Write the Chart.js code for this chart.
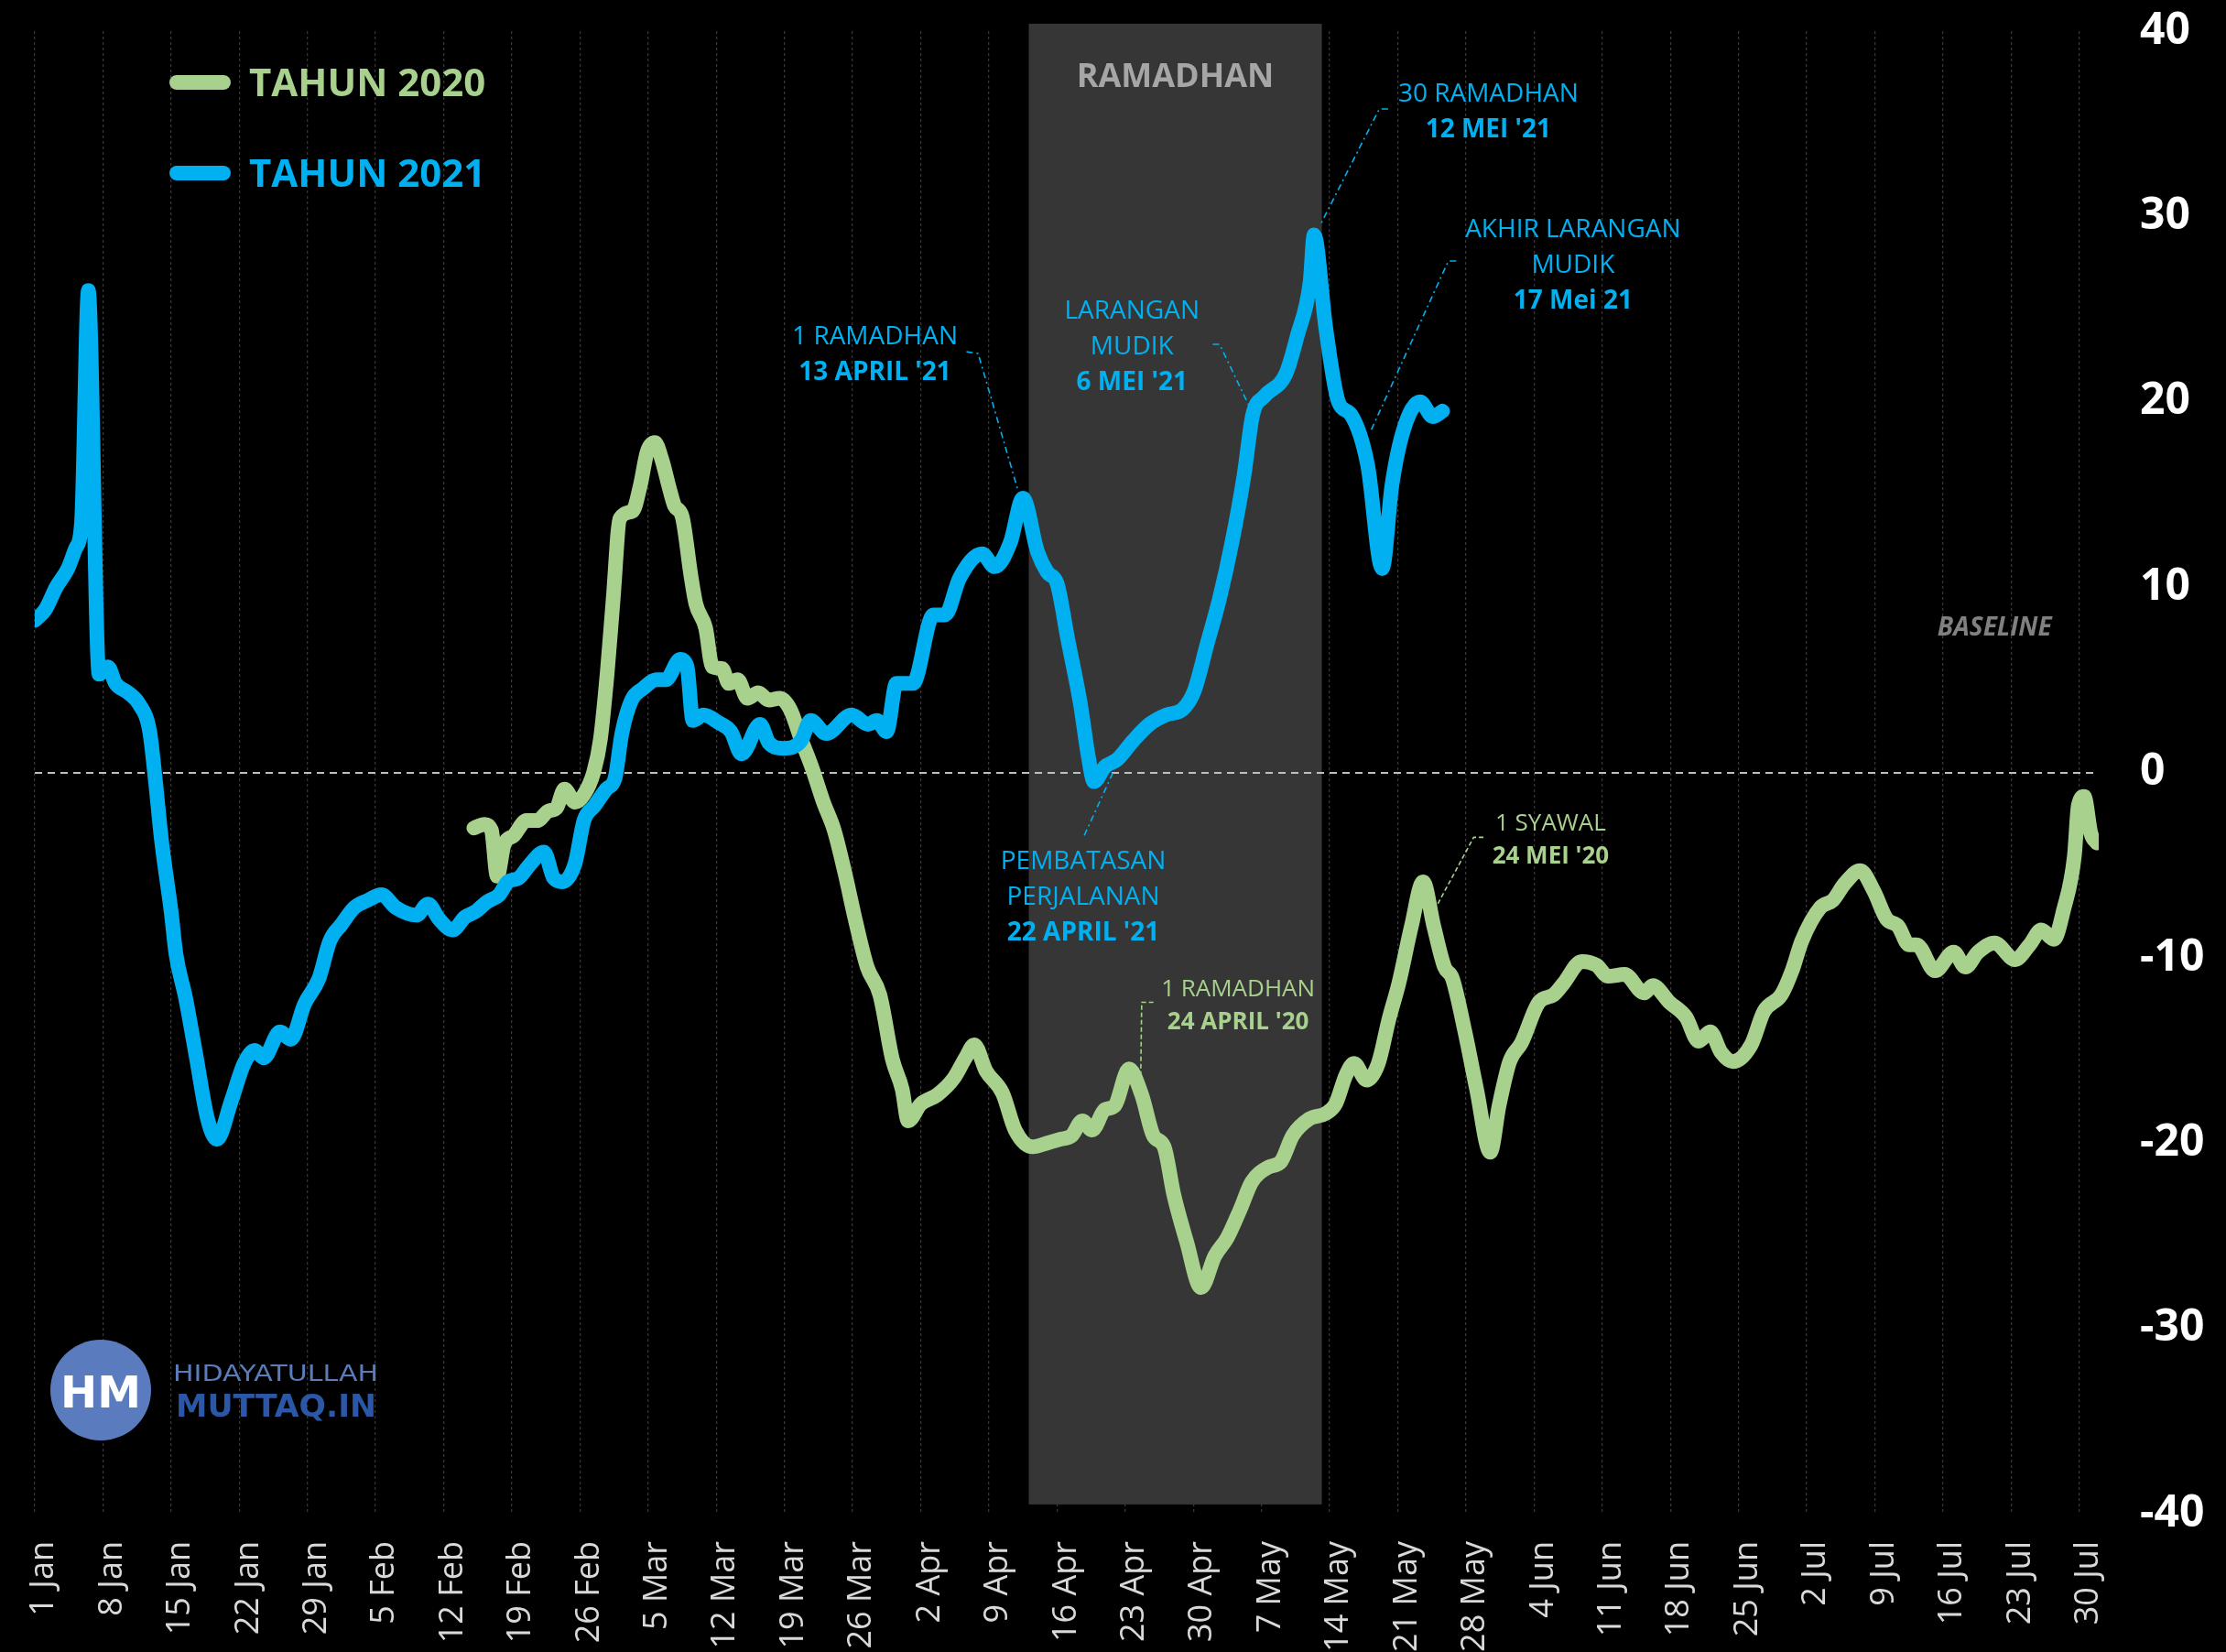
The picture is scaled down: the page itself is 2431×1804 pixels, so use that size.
<!DOCTYPE html>
<html>
<head>
<meta charset="utf-8">
<script src="https://cdn.jsdelivr.net/npm/chart.js@4/dist/chart.umd.min.js"></script>
<style>
  html, body { margin: 0; padding: 0; background: #000; }
  canvas { display: block; }
</style>
</head>
<body>
<canvas id="mobilityChart" width="2431" height="1804"></canvas>
<script>
// x = days since 1 Jan (weekly ticks follow the 2021 calendar)
var tickLabels = ['1 Jan', '8 Jan', '15 Jan', '22 Jan', '29 Jan', '5 Feb', '12 Feb', '19 Feb', '26 Feb',
    '5 Mar', '12 Mar', '19 Mar', '26 Mar', '2 Apr', '9 Apr', '16 Apr', '23 Apr', '30 Apr',
    '7 May', '14 May', '21 May', '28 May', '4 Jun', '11 Jun', '18 Jun', '25 Jun',
    '2 Jul', '9 Jul', '16 Jul', '23 Jul', '30 Jul'];

// TAHUN 2021 (blue)
var days2021 = [0, 1.1, 2.2, 3.4, 4.2, 4.8, 5.5, 6.6, 7.5, 8.3, 9.6, 10.7, 11.8, 12.4, 13.0, 14.0, 14.5,
    15.5, 16.6, 17.7, 18.7, 20.2, 21.5, 22.6, 23.5, 25.2, 26.3, 27.7, 29.2, 30.3, 31.5, 32.8, 34.2,
    35.6, 37.1, 39.2, 40.4, 41.5, 42.9, 44.2, 45.3, 46.4, 47.7, 48.6, 49.7, 50.8, 52.3, 53.3, 54.2,
    55.5, 56.4, 57.5, 58.7, 59.6, 60.3, 61.3, 62.4, 63.9, 64.8, 66.3, 67.0, 67.6, 68.7, 70.2, 71.5,
    72.6, 74.5, 75.4, 76.9, 78.7, 79.7, 81.3, 83.9, 85.6, 86.5, 87.5, 88.5, 90.2, 92.3, 93.5, 95.0,
    97.3, 98.6, 100.2, 101.5, 103.0, 104.0, 105.0, 106.1, 107.4, 108.2, 108.8, 109.9, 111.2, 112.8,
    114.5, 116.2, 117.9, 119.1, 120.4, 121.7, 123.0, 124.2, 125.1, 126.3, 128.5, 129.7, 131.0, 131.4,
    132.6, 133.9, 135.2, 136.9, 138.4, 139.4, 140.6, 142.3, 143.6, 144.6];
var values2021 = [8.2, 8.8, 10.0, 11.0, 12.1, 13.5, 26.0, 5.3, 5.7, 4.8, 4.3, 3.7, 2.2, -0.5, -3.6, -7.5, -9.8,
    -12.2, -15.4, -18.6, -19.8, -17.7, -15.7, -15.0, -15.4, -14.0, -14.4, -12.5, -11.1, -9.1, -8.2, -7.3, -6.9,
    -6.6, -7.3, -7.7, -7.1, -7.9, -8.5, -7.8, -7.5, -7.0, -6.6, -5.9, -5.7, -5.0, -4.3, -5.7, -5.9,
    -4.9, -2.6, -1.8, -0.9, -0.3, 2.1, 3.9, 4.5, 5.0, 5.0, 6.1, 5.7, 2.8, 3.1, 2.7, 2.2,
    1.0, 2.6, 1.6, 1.3, 1.7, 2.8, 2.1, 3.1, 2.6, 2.8, 2.2, 4.8, 4.8, 8.5, 8.5, 10.5,
    11.8, 11.1, 12.4, 14.8, 11.9, 10.8, 10.2, 7.2, 3.7, 0.9, -0.5, 0.3, 0.7, 1.7,
    2.6, 3.1, 3.4, 4.4, 6.9, 9.4, 12.5, 16.0, 19.3, 20.3, 21.5, 23.6, 26.5, 29.0,
    24.0, 20.0, 19.3, 16.6, 11.0, 15.5, 18.5, 20.0, 19.2, 19.5];

// TAHUN 2020 (green)
var days2020 = [45.1, 46.2, 46.9, 47.5, 48.2, 49.2, 50.5, 51.6, 52.7, 53.6, 54.4, 55.5, 56.4, 57.4, 58.1,
    58.8, 59.4, 60.1, 61.4, 62.2, 62.9, 63.7, 64.4, 65.2, 65.7, 66.5, 67.4, 67.9, 68.9, 69.6, 70.6,
    71.3, 72.2, 73.2, 74.3, 75.4, 76.5, 77.6, 78.7, 79.8, 81.0, 82.1, 83.2, 84.3, 85.5, 86.8, 88.1,
    89.1, 89.7, 91.0, 92.7, 94.4, 95.6, 96.5, 97.7, 99.4, 100.7, 102.5, 104.0, 105.3, 106.5, 107.6,
    108.6, 109.9, 110.9, 112.4, 113.7, 114.9, 116.0, 117.0, 118.3, 119.8, 121.2, 122.5, 123.8, 125.0,
    126.7, 128.0, 129.2, 130.9, 132.6, 133.6, 134.7, 135.5, 136.8, 138.0, 139.1, 140.1, 141.4, 142.6,
    143.7, 144.8, 145.6, 146.9, 148.1, 149.5, 150.4, 151.5, 152.7, 154.5, 156.0, 157.0, 158.9, 160.4,
    161.6, 163.3, 165.3, 166.2, 167.9, 169.6, 170.9, 172.1, 173.2, 174.4, 176.3, 177.6, 179.4, 180.5,
    181.5, 183.4, 184.7, 185.9, 187.5, 188.9, 190.2, 191.4, 192.5, 193.3, 195.2, 197.1, 198.3, 199.6,
    201.3, 203.4, 204.9, 206.1, 207.4, 208.4, 209.5, 209.9, 210.5, 211.2, 211.8];
var values2020 = [-3.0, -2.8, -3.1, -5.6, -3.9, -3.4, -2.6, -2.6, -2.1, -1.9, -0.9, -1.6, -1.2, 0.0, 1.8,
    5.4, 9.3, 13.7, 14.1, 15.5, 17.3, 17.8, 16.9, 15.3, 14.4, 13.8, 10.6, 9.1, 7.8, 5.7, 5.6,
    4.8, 5.0, 4.0, 4.3, 3.9, 4.0, 3.4, 1.8, 0.3, -1.6, -3.1, -5.4, -8.0, -10.5, -12.0, -15.5,
    -17.1, -18.8, -17.9, -17.4, -16.5, -15.4, -14.7, -16.1, -17.3, -19.3, -20.2, -20.0, -19.8, -19.6, -18.8,
    -19.3, -18.2, -18.0, -16.0, -17.4, -19.6, -20.2, -22.8, -25.3, -27.8, -26.1, -25.1, -23.6, -22.1,
    -21.3, -21.0, -19.6, -18.7, -18.4, -17.9, -16.3, -15.7, -16.6, -15.7, -13.3, -11.4, -8.3, -5.9,
    -8.3, -10.5, -11.1, -14.0, -17.1, -20.5, -18.0, -15.6, -14.6, -12.4, -12.0, -11.4, -10.2, -10.4,
    -11.0, -10.9, -11.9, -11.5, -12.4, -13.2, -14.5, -14.0, -15.1, -15.6, -14.7, -12.9, -12.0, -10.7,
    -9.1, -7.3, -6.9, -6.0, -5.3, -6.4, -7.9, -8.3, -9.3, -9.3, -10.7, -9.7, -10.5, -9.7,
    -9.2, -10.1, -9.3, -8.5, -9.0, -7.4, -4.5, -1.8, -1.3, -3.3, -3.8];

// Ramadhan 1442 H shading (days), and its vertical extent (values)
var ramadhanDays = [102.1, 132.2];
var ramadhanRange = [-39.5, 40.4];

var GREEN = '#a9d18e';
var BLUE = '#00b0f0';

// callouts: text anchor in data units, leader line points in data units
var callouts = [
    {x: 149.3, y: 36.7, color: BLUE, size: 28, gap: 39, dash: [7, 4, 2, 4],
        lines: [['30 RAMADHAN', false], ["12 MEI '21", true]],
        leader: [[139.0, 35.8], [138.1, 35.8], [132.0, 29.5]]},
    {x: 158.0, y: 29.4, color: BLUE, size: 28, gap: 39, dash: [7, 4, 2, 4],
        lines: [['AKHIR LARANGAN', false], ['MUDIK', false], ['17 Mei 21', true]],
        leader: [[146.0, 27.6], [145.2, 27.6], [137.2, 18.4]]},
    {x: 112.7, y: 25.0, color: BLUE, size: 28, gap: 39, dash: [7, 4, 2, 4],
        lines: [['LARANGAN', false], ['MUDIK', false], ["6 MEI '21", true]],
        leader: [[121.0, 23.1], [121.7, 23.1], [124.8, 19.7]]},
    {x: 86.3, y: 23.6, color: BLUE, size: 28, gap: 39, dash: [7, 4, 2, 4],
        lines: [['1 RAMADHAN', false], ["13 APRIL '21", true]],
        leader: [[95.7, 22.7], [96.9, 22.6], [101.0, 15.2]]},
    {x: 107.7, y: -4.7, color: BLUE, size: 28, gap: 39, dash: [7, 4, 2, 4],
        lines: [['PEMBATASAN', false], ['PERJALANAN', false], ["22 APRIL '21", true]],
        leader: [[107.8, -3.4], [110.8, 0.05]]},
    {x: 123.6, y: -11.6, color: GREEN, size: 26, gap: 36, dash: [5, 3],
        lines: [['1 RAMADHAN', false], ["24 APRIL '20", true]],
        leader: [[114.9, -12.4], [113.7, -12.4], [113.6, -16.3]]},
    {x: 155.7, y: -2.7, color: GREEN, size: 26, gap: 36, dash: [5, 3],
        lines: [['1 SYAWAL', false], ["24 MEI '20", true]],
        leader: [[148.8, -3.5], [147.8, -3.5], [144.0, -7.2]]}
];

function toPoints(days, values) {
    var pts = [];
    for (var i = 0; i < days.length; i++) {
        pts.push({x: days[i], y: values[i]});
    }
    return pts;
}

// draw text with the middle of its capitals on y
function capText(ctx, text, x, y, font, size, color, align) {
    ctx.font = font;
    ctx.fillStyle = color;
    ctx.textAlign = align || 'center';
    ctx.textBaseline = 'alphabetic';
    ctx.fillText(text, x, y + size * 0.357);
}

// squeeze/stretch text to a given width
function fitText(ctx, text, left, baseline, width, font, color) {
    ctx.save();
    ctx.font = font;
    ctx.fillStyle = color;
    ctx.textAlign = 'left';
    ctx.textBaseline = 'alphabetic';
    var w = ctx.measureText(text).width;
    ctx.translate(left, baseline);
    ctx.scale(width / w, 1);
    ctx.fillText(text, 0, 0);
    ctx.restore();
}

var decorations = {
    id: 'decorations',
    beforeDraw: function(chart) {
        var ctx = chart.ctx;
        var x = chart.scales.x, y = chart.scales.y;
        ctx.save();
        ctx.fillStyle = '#000';
        ctx.fillRect(0, 0, chart.width, chart.height);
        // Ramadhan band
        var x0 = x.getPixelForValue(ramadhanDays[0]), x1 = x.getPixelForValue(ramadhanDays[1]);
        var y0 = y.getPixelForValue(ramadhanRange[1]), y1 = y.getPixelForValue(ramadhanRange[0]);
        ctx.fillStyle = '#363636';
        ctx.fillRect(x0, y0, x1 - x0, y1 - y0);
        ctx.restore();
    },
    afterDraw: function(chart) {
        var ctx = chart.ctx;
        var x = chart.scales.x, y = chart.scales.y;
        ctx.save();

        // band title
        capText(ctx, 'RAMADHAN', (x.getPixelForValue(ramadhanDays[0]) + x.getPixelForValue(ramadhanDays[1])) / 2,
            y.getPixelForValue(37.6), 'bold 36px "Open Sans"', 36, '#a6a6a6');

        // baseline tag
        capText(ctx, 'BASELINE', x.getPixelForValue(201.3), y.getPixelForValue(7.9),
            'italic bold 28px "Open Sans"', 28, '#808080');

        // callouts
        callouts.forEach(function(c) {
            ctx.save();
            ctx.strokeStyle = c.color;
            ctx.lineWidth = 1.6;
            ctx.setLineDash(c.dash);
            ctx.beginPath();
            c.leader.forEach(function(p, i) {
                var px = x.getPixelForValue(p[0]), py = y.getPixelForValue(p[1]);
                if (i === 0) ctx.moveTo(px, py); else ctx.lineTo(px, py);
            });
            ctx.stroke();
            ctx.restore();
            var cx = x.getPixelForValue(c.x), cy = y.getPixelForValue(c.y);
            c.lines.forEach(function(line, i) {
                var font = (line[1] ? 'bold ' : '') + c.size + 'px "Open Sans"';
                capText(ctx, line[0], cx, cy + i * c.gap, font, c.size, c.color);
            });
        });

        // legend (labels and colours taken from the datasets)
        var sets = chart.data.datasets.slice().sort(function(a, b) { return a.legendRank - b.legendRank; });
        sets.forEach(function(ds, i) {
            var ly = 90 + i * 99;
            ctx.save();
            ctx.strokeStyle = ds.borderColor;
            ctx.lineWidth = 16;
            ctx.lineCap = 'round';
            ctx.beginPath();
            ctx.moveTo(193, ly);
            ctx.lineTo(244, ly);
            ctx.stroke();
            ctx.restore();
            capText(ctx, ds.label, 272, ly, 'bold 42px "Open Sans"', 42, ds.borderColor, 'left');
        });

        // logo
        ctx.fillStyle = '#5a7bbd';
        ctx.beginPath();
        ctx.arc(110, 1518, 55, 0, Math.PI * 2);
        ctx.fill();
        capText(ctx, 'HM', 110, 1520, 'bold 48px "DejaVu Sans"', 48, '#ffffff');
        fitText(ctx, 'HIDAYATULLAH', 189, 1508, 224, '24px "DejaVu Sans"', '#5b7cbb');
        fitText(ctx, 'MUTTAQ.IN', 192, 1547, 219, 'bold 33px "DejaVu Sans"', '#2c56a6');

        ctx.restore();
    }
};

var ctx = document.getElementById('mobilityChart');
var myChart = new Chart(ctx, {
    type: 'line',
    data: {
        datasets: [{
            label: 'TAHUN 2020',
            legendRank: 0,
            order: 2,
            data: toPoints(days2020, values2020),
            borderColor: GREEN,
            borderWidth: 16,
            pointRadius: 0,
            cubicInterpolationMode: 'monotone',
            borderCapStyle: 'round',
            borderJoinStyle: 'round',
            fill: false
        }, {
            label: 'TAHUN 2021',
            legendRank: 1,
            order: 1,
            data: toPoints(days2021, values2021),
            borderColor: BLUE,
            borderWidth: 16,
            pointRadius: 0,
            cubicInterpolationMode: 'monotone',
            borderCapStyle: 'round',
            borderJoinStyle: 'round',
            fill: false
        }]
    },
    options: {
        responsive: false,
        animation: false,
        layout: {padding: {left: 38, top: 34, right: 0, bottom: 0}},
        plugins: {
            legend: {display: false},
            tooltip: {enabled: false}
        },
        scales: {
            x: {
                type: 'linear',
                min: 0,
                max: 212,
                afterBuildTicks: function(axis) {
                    axis.ticks = tickLabels.map(function(t, i) { return {value: i * 7}; });
                },
                afterFit: function(axis) {
                    axis.height = 151;
                    axis.paddingLeft = 0;
                    axis.paddingRight = 0;
                },
                ticks: {
                    autoSkip: false,
                    minRotation: 90,
                    maxRotation: 90,
                    padding: 30,
                    labelOffset: 10,
                    color: '#d9d9d9',
                    font: {family: 'Open Sans', size: 36},
                    callback: function(value) { return tickLabels[Math.round(value / 7)]; }
                },
                grid: {color: '#363636', lineWidth: 1.3, drawTicks: false},
                border: {display: false, dash: [3, 3]}
            },
            y: {
                position: 'right',
                min: -40,
                max: 40,
                afterFit: function(axis) {
                    axis.width = 139;
                    axis.paddingTop = 0;
                    axis.paddingBottom = 0;
                },
                ticks: {
                    stepSize: 10,
                    padding: 45,
                    color: '#ffffff',
                    font: {family: '"Liberation Sans Narrow", "Arial Narrow", "Open Sans"', size: 48, weight: 'bold'}
                },
                grid: {
                    drawTicks: false,
                    lineWidth: 2,
                    color: function(c) { return c.tick && c.tick.value === 0 ? '#bfbfbf' : 'rgba(0,0,0,0)'; }
                },
                border: {display: false, dash: [8, 6]}
            }
        }
    },
    plugins: [decorations]
});
</script>
</body>
</html>
